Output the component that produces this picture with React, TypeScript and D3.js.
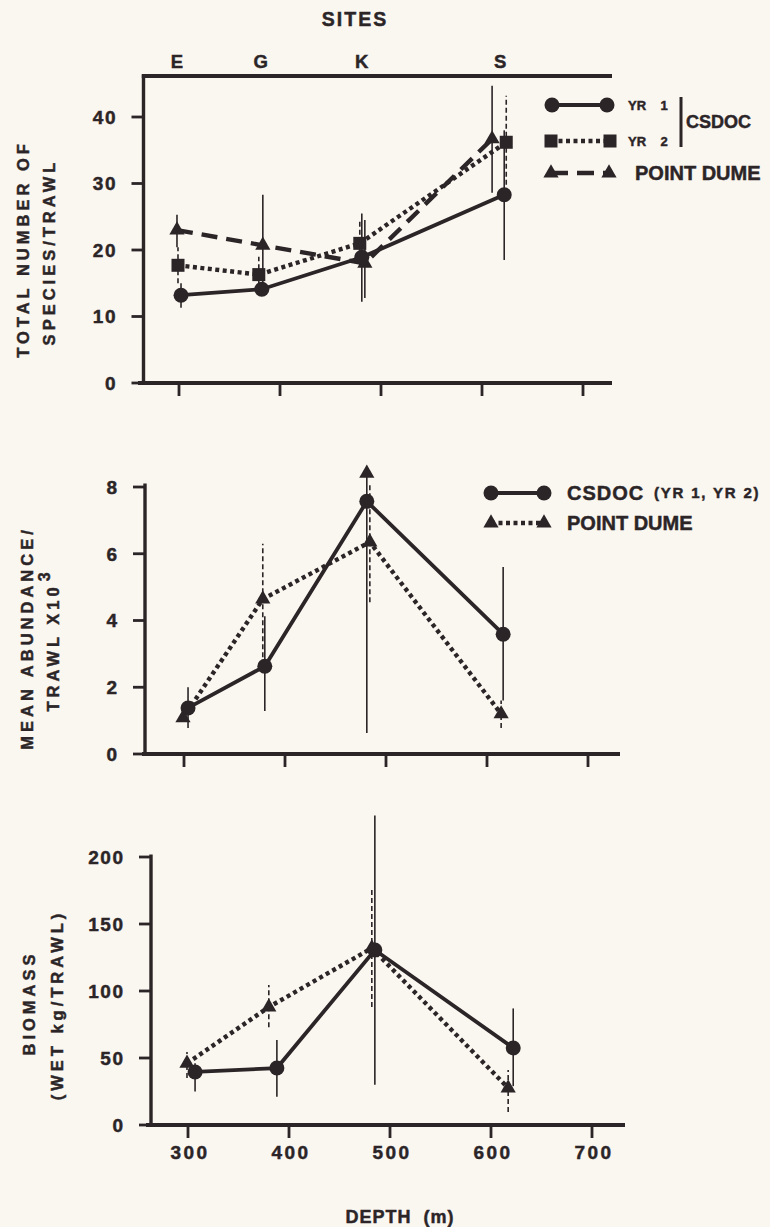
import { useEffect, useRef } from 'react';
import * as d3 from 'd3';

// sites along the top and the depth scale
const siteNames = ['E', 'G', 'K', 'S'];
const siteDepths = [298, 381, 481, 618];
const depthTicks = [300, 400, 500, 600, 700];

// panel 1: total number of species / trawl
const speciesTicks = [0, 10, 20, 30, 40];
const yr1Depth = [302, 382, 481, 622];
const yr1Species = [13.2, 14.1, 18.9, 28.3];
const yr1Lo = [11.3, 14.1, 12.2, 18.5];
const yr1Hi = [15.0, 14.1, 25.5, 38.0];

const yr2Depth = [299, 379, 479, 624];
const yr2Species = [17.7, 16.3, 21.0, 36.2];
const yr2Lo = [15.0, 13.5, 17.5, 29.8];
const yr2Hi = [20.4, 19.0, 24.5, 43.2];

const pdDepth = [298, 383, 484, 610];
const pdSpecies = [23.0, 20.7, 18.0, 36.7];
const pdLo = [20.4, 13.1, 12.8, 28.6];
const pdHi = [25.3, 28.3, 24.5, 44.7];

// panel 2: mean abundance / trawl x 10^3
const abundanceTicks = [0, 2, 4, 6, 8];
const csdocAbDepth = [304, 380, 481, 616];
const csdocAbundance = [1.38, 2.63, 7.57, 3.59];
const csdocAbLo = [0.78, 1.29, 0.63, 1.6];
const csdocAbHi = [2.0, 4.13, 8.5, 5.6];
const csdocAbArrow = [false, false, true, false];

const pdAbDepth = [299, 378, 484, 614];
const pdAbundance = [1.08, 4.64, 6.35, 1.2];
const pdAbLo = [1.0, 2.9, 4.55, 0.78];
const pdAbHi = [1.2, 6.3, 8.1, 1.6];

// panel 3: biomass (wet kg / trawl)
const biomassTicks = [0, 50, 100, 150, 200];
const csdocBmDepth = [307, 388, 485, 622];
const csdocBiomass = [39.6, 42.5, 130.6, 57.5];
const csdocBmLo = [25, 21, 30, 29];
const csdocBmHi = [46, 63.4, 231, 87];

const pdBmDepth = [299, 380, 482, 617];
const pdBiomass = [46, 88, 132, 27.6];
const pdBmLo = [35, 73, 88, 9.7];
const pdBmHi = [54.5, 104.5, 177.6, 41];

const INK = '#2b2527';
const PAPER = '#faf6f0';
const FONT = "'Liberation Sans', Arial, Helvetica, sans-serif";

const SOLID = null;
const DOTTED = '4,3.5';
const DASHED = '16,9';

const zipSeries = (depth, value, lo, hi, arrow?) =>
  depth.map((d, i) => ({ depth: d, value: value[i], lo: lo[i], hi: hi[i], arrow: arrow ? arrow[i] : false }));

const drawMarker = (g, shape, cx, cy, size = 1) => {
  if (shape === 'circle') {
    g.append('circle').attr('cx', cx).attr('cy', cy).attr('r', 7.5 * size).attr('fill', INK);
  } else if (shape === 'square') {
    const s = 13 * size;
    g.append('rect').attr('x', cx - s / 2).attr('y', cy - s / 2).attr('width', s).attr('height', s).attr('fill', INK);
  } else {
    g.append('path')
      .attr('d', d3.symbol(d3.symbolTriangle).size(100 * size)())
      .attr('transform', `translate(${cx},${cy})`)
      .attr('fill', INK);
  }
};

// heavy print look: bold plus a thin outline
const boldText = (sel, size, spacing = 0) =>
  sel.attr('font-family', FONT).attr('font-weight', 'bold').attr('font-size', size)
    .attr('letter-spacing', spacing).attr('fill', INK)
    .attr('stroke', INK).attr('stroke-width', 0.45);

const App = () => {
  const svgRef = useRef(null);

  useEffect(() => {
    const svg = d3.select(svgRef.current);
    svg.selectAll('*').remove();

    svg.append('rect').attr('width', 770).attr('height', 1227).attr('fill', PAPER);

    const panels = [
      {
        x: d3.scaleLinear().domain([300, 700]).range([179, 583]),
        y: d3.scaleLinear().domain([0, 40]).range([383, 117]),
        ticks: speciesTicks,
        axisX: 143.5, axisTop: 76, axisRight: 612, axisLeftEnd: 138,
        topBorder: true, xLabels: false,
        series: [
          { data: zipSeries(pdDepth, pdSpecies, pdLo, pdHi), line: DASHED, bar: SOLID, shape: 'triangle' },
          { data: zipSeries(yr2Depth, yr2Species, yr2Lo, yr2Hi), line: DOTTED, bar: '5,3', shape: 'square' },
          { data: zipSeries(yr1Depth, yr1Species, yr1Lo, yr1Hi), line: SOLID, bar: SOLID, shape: 'circle' },
        ],
        title: [{ text: 'TOTAL NUMBER OF', x: 23, y: 249 }, { text: 'SPECIES/TRAWL', x: 49, y: 252 }],
      },
      {
        x: d3.scaleLinear().domain([300, 700]).range([184, 588]),
        y: d3.scaleLinear().domain([0, 8]).range([754, 487]),
        ticks: abundanceTicks,
        axisX: 145, axisTop: 485, axisRight: 620, axisLeftEnd: 142,
        topBorder: false, xLabels: false,
        series: [
          { data: zipSeries(pdAbDepth, pdAbundance, pdAbLo, pdAbHi), line: DOTTED, bar: '5,3', shape: 'triangle' },
          { data: zipSeries(csdocAbDepth, csdocAbundance, csdocAbLo, csdocAbHi, csdocAbArrow), line: SOLID, bar: SOLID, shape: 'circle' },
        ],
        title: [{ text: 'MEAN ABUNDANCE/', x: 27, y: 638 }, { text: 'TRAWL X10', x: 53, y: 640, sup: '3' }],
      },
      {
        x: d3.scaleLinear().domain([300, 700]).range([188, 592]),
        y: d3.scaleLinear().domain([0, 200]).range([1125, 857]),
        ticks: biomassTicks,
        axisX: 151, axisTop: 856, axisRight: 625, axisLeftEnd: 146,
        topBorder: false, xLabels: true,
        series: [
          { data: zipSeries(pdBmDepth, pdBiomass, pdBmLo, pdBmHi), line: DOTTED, bar: '5,3', shape: 'triangle' },
          { data: zipSeries(csdocBmDepth, csdocBiomass, csdocBmLo, csdocBmHi), line: SOLID, bar: SOLID, shape: 'circle' },
        ],
        title: [{ text: 'BIOMASS', x: 29, y: 1003 }, { text: '(WET kg/TRAWL)', x: 57, y: 1005 }],
      },
    ];

    panels.forEach(p => {
      const g = svg.append('g');
      const y0 = p.y(0);

      // axes
      g.append('line').attr('x1', p.axisX).attr('x2', p.axisX).attr('y1', y0 + 1.5).attr('y2', p.axisTop - 1.5)
        .attr('stroke', INK).attr('stroke-width', 3.4);
      g.append('line').attr('x1', p.axisLeftEnd).attr('x2', p.axisRight).attr('y1', y0).attr('y2', y0)
        .attr('stroke', INK).attr('stroke-width', 3.8);
      if (p.topBorder) {
        g.append('line').attr('x1', p.axisX - 1.7).attr('x2', p.axisRight).attr('y1', p.axisTop).attr('y2', p.axisTop)
          .attr('stroke', INK).attr('stroke-width', 3.8);
      }

      // y ticks
      p.ticks.forEach(t => {
        g.append('line').attr('x1', p.axisX - 12).attr('x2', p.axisX).attr('y1', p.y(t)).attr('y2', p.y(t))
          .attr('stroke', INK).attr('stroke-width', 2.8);
        boldText(g.append('text'), 19, 1.5)
          .attr('x', p.axisX - 26.5).attr('y', p.y(t)).attr('dy', '0.36em')
          .attr('text-anchor', 'end').text(t);
      });

      // x ticks
      depthTicks.forEach(t => {
        g.append('line').attr('x1', p.x(t)).attr('x2', p.x(t)).attr('y1', y0).attr('y2', y0 + 13)
          .attr('stroke', INK).attr('stroke-width', 2.8);
        if (p.xLabels) {
          boldText(g.append('text'), 19, 2.5)
            .attr('x', p.x(t) + 2).attr('y', y0 + 34)
            .attr('text-anchor', 'middle').text(t);
        }
      });

      // error bars
      p.series.forEach(s => {
        s.data.forEach(d => {
          if (d.hi === d.lo) return;
          g.append('line').attr('x1', p.x(d.depth)).attr('x2', p.x(d.depth))
            .attr('y1', p.y(d.lo)).attr('y2', p.y(d.hi))
            .attr('stroke', INK).attr('stroke-width', 1.6)
            .attr('stroke-dasharray', s.bar);
          if (d.arrow) drawMarker(g, 'triangle', p.x(d.depth), p.y(d.hi) + 3, 1);
        });
      });

      // lines
      const line = d3.line().x(d => p.x(d.depth)).y(d => p.y(d.value));
      p.series.forEach(s => {
        g.append('path').attr('d', line(s.data)).attr('fill', 'none')
          .attr('stroke', INK).attr('stroke-width', s.line === SOLID ? 3.8 : 4.4)
          .attr('stroke-dasharray', s.line);
      });

      // markers
      p.series.forEach(s => {
        s.data.forEach(d => drawMarker(g, s.shape, p.x(d.depth), p.y(d.value)));
      });

      // y titles
      p.title.forEach(t => {
        const tx = boldText(g.append('text'), 16.5, 4)
          .attr('transform', `translate(${t.x},${t.y}) rotate(-90)`)
          .attr('text-anchor', 'middle').attr('dy', '0.36em');
        tx.append('tspan').text(t.text);
        if (t.sup) tx.append('tspan').attr('dy', -9).attr('dx', 2).attr('font-size', 16).text(t.sup);
      });
    });

    // sites along the top
    const topX = panels[0].x;
    boldText(svg.append('text'), 19.5, 2).attr('x', 355).attr('y', 26).attr('text-anchor', 'middle').text('SITES');
    siteNames.forEach((s, i) => {
      boldText(svg.append('text'), 18.5).attr('x', topX(siteDepths[i])).attr('y', 68)
        .attr('text-anchor', 'middle').text(s);
    });

    // depth title
    boldText(svg.append('text'), 18, 1).attr('x', 400).attr('y', 1223).attr('text-anchor', 'middle')
      .attr('xml:space', 'preserve').text('DEPTH  (m)');

    // legend, panel 1
    const leg = svg.append('g');
    const legRow = (x1, x2, y, dash, shape, w) => {
      leg.append('line').attr('x1', x1).attr('x2', x2).attr('y1', y).attr('y2', y)
        .attr('stroke', INK).attr('stroke-width', w).attr('stroke-dasharray', dash);
      drawMarker(leg, shape, x1, y);
      drawMarker(leg, shape, x2, y);
    };
    const legText = (x, y, txt, size, spacing = 0) =>
      boldText(leg.append('text'), size, spacing).attr('x', x).attr('y', y).attr('dy', '0.36em')
        .attr('xml:space', 'preserve').text(txt);

    legRow(552, 607, 105, SOLID, 'circle', 3.8);
    legText(628, 105, 'YR    1', 13);
    legRow(551, 610, 141, DOTTED, 'square', 4.4);
    legText(628, 141, 'YR    2', 13);
    legRow(551, 609, 173, '17,9', 'triangle', 4.4);
    legText(635, 173, 'POINT DUME', 20);
    leg.append('line').attr('x1', 681).attr('x2', 681).attr('y1', 97).attr('y2', 147)
      .attr('stroke', INK).attr('stroke-width', 3);
    legText(686, 122, 'CSDOC', 18);

    // legend, panel 2
    legRow(491, 544, 493, SOLID, 'circle', 3.8);
    legText(567, 493, 'CSDOC', 20, 1);
    legText(654, 493, '(YR 1, YR 2)', 15, 1.8);
    legRow(491, 544, 523, DOTTED, 'triangle', 4.4);
    legText(567, 523, 'POINT DUME', 20);
  }, []);

  return (
    <svg ref={svgRef} width={770} height={1227}
      style={{ position: 'absolute', left: 0, top: 0, display: 'block' }} />
  );
};

export default App;
